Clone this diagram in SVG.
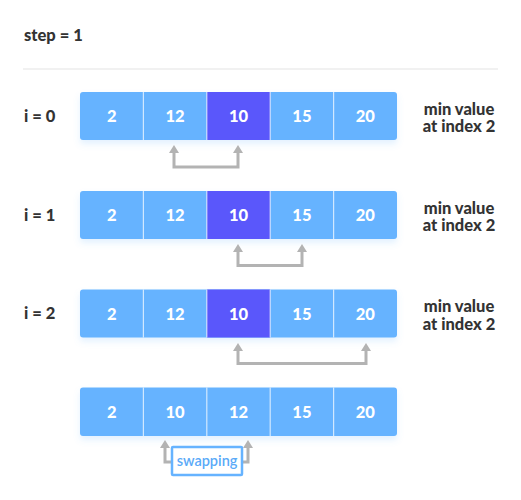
<svg xmlns="http://www.w3.org/2000/svg" width="521" height="500" viewBox="0 0 521 500">
<defs>
<filter id="sh" x="-5%" y="-20%" width="110%" height="150%">
<feDropShadow dx="0" dy="4" stdDeviation="3" flood-color="#66b3ff" flood-opacity="0.18"/>
</filter>
</defs>
<style>
.lbl{font-family:Lato,"Liberation Sans",sans-serif;font-weight:900;font-size:16.5px;fill:#333}
.num{font-family:Lato,"Liberation Sans",sans-serif;font-weight:900;font-size:16.5px;fill:#fff;text-anchor:middle}
.note{font-family:Lato,"Liberation Sans",sans-serif;font-weight:900;font-size:16.5px;fill:#333;text-anchor:middle}
.arr{fill:#66b3ff}
.min{fill:#5a57fb}
.div{stroke:#ffffff;stroke-opacity:0.7;stroke-width:1.2}
.con{fill:none;stroke:#b3b3b3;stroke-width:3}
.sw{font-family:Lato,"Liberation Sans",sans-serif;font-weight:600;font-size:14.5px;fill:#5aaaf8;text-anchor:middle}
</style>
<rect width="521" height="500" fill="#fff"/>
<text class="lbl" x="24" y="41">step = 1</text>
<line x1="23" y1="69" x2="498" y2="69" stroke="#ececec" stroke-width="1.5"/>

<g id="row0">
<text class="lbl" x="24" y="122">i = 0</text>
<g filter="url(#sh)"><rect class="arr" x="80" y="92" width="317" height="48" rx="3"/></g>
<rect class="min" x="206.8" y="92" width="63.4" height="48"/>
<g class="div"><line x1="143.4" y1="92" x2="143.4" y2="140"/><line x1="206.8" y1="92" x2="206.8" y2="140"/><line x1="270.2" y1="92" x2="270.2" y2="140"/><line x1="333.6" y1="92" x2="333.6" y2="140"/></g>
<text class="num" x="111.7" y="122">2</text><text class="num" x="175.1" y="122">12</text><text class="num" x="238.5" y="122">10</text><text class="num" x="301.9" y="122">15</text><text class="num" x="365.3" y="122">20</text>
<text class="note" x="459" y="114.5">min value</text><text class="note" x="459" y="132">at index 2</text>
</g>

<g id="row1">
<text class="lbl" x="24" y="221">i = 1</text>
<g filter="url(#sh)"><rect class="arr" x="80" y="191" width="317" height="48" rx="3"/></g>
<rect class="min" x="206.8" y="191" width="63.4" height="48"/>
<g class="div"><line x1="143.4" y1="191" x2="143.4" y2="239"/><line x1="206.8" y1="191" x2="206.8" y2="239"/><line x1="270.2" y1="191" x2="270.2" y2="239"/><line x1="333.6" y1="191" x2="333.6" y2="239"/></g>
<text class="num" x="111.7" y="221">2</text><text class="num" x="175.1" y="221">12</text><text class="num" x="238.5" y="221">10</text><text class="num" x="301.9" y="221">15</text><text class="num" x="365.3" y="221">20</text>
<text class="note" x="459" y="213.5">min value</text><text class="note" x="459" y="231">at index 2</text>
</g>

<g id="row2">
<text class="lbl" x="24" y="319">i = 2</text>
<g filter="url(#sh)"><rect class="arr" x="80" y="289.5" width="317" height="48" rx="3"/></g>
<rect class="min" x="206.8" y="289.5" width="63.4" height="48"/>
<g class="div"><line x1="143.4" y1="289.5" x2="143.4" y2="337.5"/><line x1="206.8" y1="289.5" x2="206.8" y2="337.5"/><line x1="270.2" y1="289.5" x2="270.2" y2="337.5"/><line x1="333.6" y1="289.5" x2="333.6" y2="337.5"/></g>
<text class="num" x="111.7" y="319.5">2</text><text class="num" x="175.1" y="319.5">12</text><text class="num" x="238.5" y="319.5">10</text><text class="num" x="301.9" y="319.5">15</text><text class="num" x="365.3" y="319.5">20</text>
<text class="note" x="459" y="312">min value</text><text class="note" x="459" y="329.5">at index 2</text>
</g>

<g id="row3">
<g filter="url(#sh)"><rect class="arr" x="80" y="387.5" width="317" height="48.5" rx="3"/></g>
<g class="div"><line x1="143.4" y1="387.5" x2="143.4" y2="436"/><line x1="206.8" y1="387.5" x2="206.8" y2="436"/><line x1="270.2" y1="387.5" x2="270.2" y2="436"/><line x1="333.6" y1="387.5" x2="333.6" y2="436"/></g>
<text class="num" x="111.7" y="418">2</text><text class="num" x="175.1" y="418">10</text><text class="num" x="238.5" y="418">12</text><text class="num" x="301.9" y="418">15</text><text class="num" x="365.3" y="418">20</text>
</g>

<g id="connectors">
<path class="con" d="M174,152 V167 H238 V152"/>
<path d="M169,153 L174,145 L179,153 Z M233,153 L238,145 L243,153 Z" fill="#b3b3b3"/>
<path class="con" d="M238,251 V265.5 H302 V251"/>
<path d="M233,252 L238,244 L243,252 Z M297,252 L302,244 L307,252 Z" fill="#b3b3b3"/>
<path class="con" d="M238,350 V363.5 H366 V350"/>
<path d="M233,351 L238,343 L243,351 Z M361,351 L366,343 L371,351 Z" fill="#b3b3b3"/>
<path class="con" d="M165,447 V462 H172"/>
<path class="con" d="M248,447 V462 H242"/>
<path d="M160,448 L165,440 L170,448 Z M243,448 L248,440 L253,448 Z" fill="#b3b3b3"/>
</g>

<g id="swapping">
<rect x="172" y="447" width="70" height="28" fill="#fff" stroke="#66b3ff" stroke-width="2.5" rx="1"/>
<text class="sw" x="207" y="466">swapping</text>
</g>
</svg>
